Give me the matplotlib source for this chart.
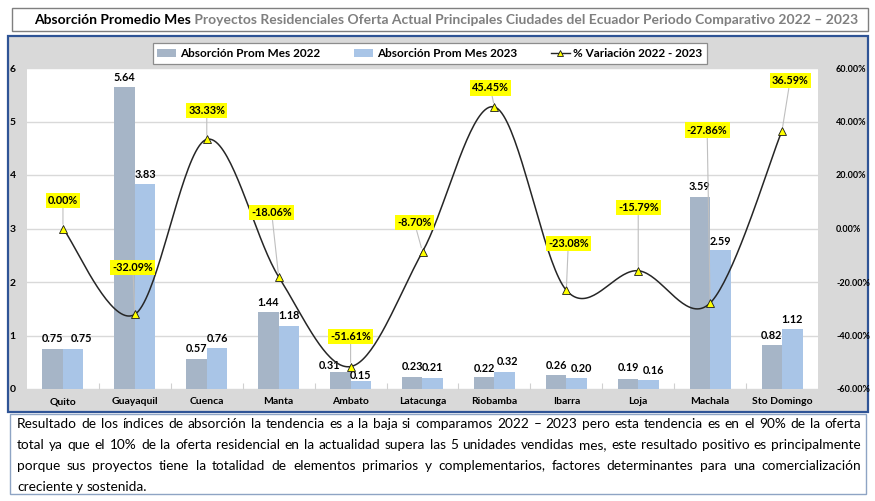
import numpy as np
import matplotlib
matplotlib.use("Agg")
import matplotlib.pyplot as plt
from matplotlib import font_manager
from matplotlib.patches import Rectangle, Patch
from matplotlib.lines import Line2D

W, H = 875, 501

# datos
ciudades = ["Quito", "Guayaquil", "Cuenca", "Manta", "Ambato", "Latacunga",
            "Riobamba", "Ibarra", "Loja", "Machala", "Sto Domingo"]
abs_2022 = [0.75, 5.64, 0.57, 1.44, 0.31, 0.23, 0.22, 0.26, 0.19, 3.59, 0.82]
abs_2023 = [0.75, 3.83, 0.76, 1.18, 0.15, 0.21, 0.32, 0.20, 0.16, 2.59, 1.12]
variacion = [0.00, -32.09, 33.33, -18.06, -51.61, -8.70, 45.45, -23.08, -15.79, -27.86, 36.59]
ticks_izq = [0, 1, 2, 3, 4, 5, 6]
ticks_der = [-60, -40, -20, 0, 20, 40, 60]

titulo_negro = "Absorción Promedio Mes"
titulo_gris = "Proyectos Residenciales Oferta Actual Principales Ciudades del Ecuador Periodo Comparativo 2022 – 2023"
leyenda = ["Absorción Prom Mes 2022", "Absorción Prom Mes 2023", "% Variación 2022 - 2023"]
parrafo = [
    "Resultado de los índices de absorción la tendencia es a la baja si comparamos 2022 – 2023 pero esta tendencia es en el 90% de la oferta",
    "total ya que el 10% de la oferta residencial en la actualidad supera las 5 unidades vendidas mes, este resultado positivo es principalmente",
    "porque sus proyectos tiene la totalidad de elementos primarios y complementarios, factores determinantes para una comercialización",
    "creciente y sostenida.",
]

# desplazamientos de etiquetas (pixeles)
off_pct = [(0, 28), (-2, 47), (0, 29), (-7, 64), (0, 30), (-8, 29),
           (-4, 19), (2, 47), (0, 63), (-3, 173), (8, 50)]
off_22 = [(0, 10), (0, 10), (0, 10), (0, 9), (-11, 7), (0, 10),
          (0, 9), (0, 10), (0, 11), (0, 10), (0, 10)]
off_23 = [(8, 10), (0, 10), (0, 10), (0, 10), (0, 5), (0, 10),
          (3, 10), (5, 10), (5, 10), (0, 9), (0, 10)]

C22 = "#A6B5C7"
C23 = "#A9C5E7"
GRIS_FONDO = "#D9D9D9"

names = {f.name for f in font_manager.fontManager.ttflist}
F_MAIN = "Lato" if "Lato" in names else "DejaVu Sans"
plt.rcParams["font.family"] = [F_MAIN, "DejaVu Sans"]


def fx(px):
    return px / W


def fy(py):
    return 1 - py / H


def excel_smooth(xs, ys, n=40):
    # curva suavizada tipo Excel (Bezier / Catmull-Rom)
    pts = np.column_stack([xs, ys]).astype(float)
    P = np.vstack([pts[0], pts, pts[-1]])
    out = []
    t = np.linspace(0, 1, n)[:, None]
    for i in range(1, len(P) - 2):
        p0, p1, p2, p3 = P[i - 1], P[i], P[i + 1], P[i + 2]
        c1 = p1 + (p2 - p0) / 6
        c2 = p2 - (p3 - p1) / 6
        seg = (1 - t) ** 3 * p1 + 3 * (1 - t) ** 2 * t * c1 + 3 * (1 - t) * t ** 2 * c2 + t ** 3 * p2
        out.append(seg if i == 1 else seg[1:])
    return np.vstack(out)


fig = plt.figure(figsize=(W / 100, H / 100), dpi=100)
renderer = fig.canvas.get_renderer()

# marcos
fondo = Rectangle((fx(8), fy(412)), fx(868) - fx(8), fy(36) - fy(412), transform=fig.transFigure,
                  fc=GRIS_FONDO, ec="#2F5496", lw=1.6, zorder=-2)
fig.add_artist(fondo)
caja_tit = Rectangle((fx(12), fy(31)), fx(868) - fx(12), fy(8) - fy(31), transform=fig.transFigure,
                     fc="white", ec="#7F7F7F", lw=1.0, zorder=-2)
fig.add_artist(caja_tit)
caja_txt = Rectangle((fx(10), fy(494)), fx(866) - fx(10), fy(414) - fy(494), transform=fig.transFigure,
                     fc="white", ec="#8EA4C4", lw=1.0, zorder=-2)
fig.add_artist(caja_txt)

# titulo en dos colores
t1 = fig.text(0, fy(24), titulo_negro, fontsize=10, fontweight="bold",
              color="black", va="baseline", ha="left")
t2 = fig.text(0, fy(24), " " + titulo_gris, fontsize=10, fontweight="bold",
              color="#7F7F7F", va="baseline", ha="left")
w1 = t1.get_window_extent(renderer).width
w2 = t2.get_window_extent(renderer).width
escala = 825 / (w1 + w2)
t1.set_fontsize(10 * escala)
t2.set_fontsize(10 * escala)
w1 = t1.get_window_extent(renderer).width
w2 = t2.get_window_extent(renderer).width
x0 = (446 - (w1 + w2) / 2)
t1.set_x(fx(x0))
t2.set_x(fx(x0 + w1))

# ejes
ax = fig.add_axes([fx(27), fy(389), fx(818) - fx(27), fy(68) - fy(389)])
ax.set_facecolor("white")
x = np.arange(len(ciudades))
bw = 0.285
ax.bar(x - bw / 2, abs_2022, bw, color=C22, zorder=2)
ax.bar(x + bw / 2, abs_2023, bw, color=C23, zorder=2)
ax.set_xlim(-0.5, len(ciudades) - 0.5)
ax.set_ylim(0, 6)
ax.set_yticks(ticks_izq)
ax.set_yticklabels([str(v) for v in ticks_izq], fontsize=7.5, fontweight="bold")
ax.yaxis.grid(True, color="#D9D9D9", lw=1.0, zorder=0)
ax.set_axisbelow(True)
ax.set_xticks(x)
ax.set_xticklabels(ciudades, fontsize=7.5, fontweight="bold")
ax.set_xticks(np.arange(0.5, len(ciudades) - 0.5, 1), minor=True)
ax.tick_params(axis="x", which="major", length=0, pad=6)
ax.tick_params(axis="x", which="minor", direction="in", length=4, color="#D0D0D0", width=0.8)
ax.tick_params(axis="y", length=0, pad=8)
for s in ax.spines.values():
    s.set_visible(False)

for i, v in enumerate(abs_2022):
    ax.annotate(f"{v:.2f}", xy=(x[i] - bw / 2, v), xytext=off_22[i], textcoords="offset pixels",
                ha="center", va="center", fontsize=7.8, fontweight="bold", zorder=4)
for i, v in enumerate(abs_2023):
    ax.annotate(f"{v:.2f}", xy=(x[i] + bw / 2, v), xytext=off_23[i], textcoords="offset pixels",
                ha="center", va="center", fontsize=7.8, fontweight="bold", zorder=4)

ax2 = ax.twinx()
ax2.set_ylim(-60, 60)
ax2.set_yticks(ticks_der)
ax2.set_yticklabels([f"{v:.2f}%" for v in ticks_der], fontsize=6.5, fontweight="bold")
ax2.tick_params(axis="y", length=0, pad=13)
for s in ax2.spines.values():
    s.set_visible(False)

curva = excel_smooth(x, variacion)
ax2.plot(curva[:, 0], curva[:, 1], color="#262626", lw=1.1, zorder=3)
ax2.plot(x, variacion, ls="none", marker="^", ms=6, mfc="#FFFF00", mec="#1A1A1A", mew=0.6, zorder=4)
for i, v in enumerate(variacion):
    ax2.annotate(f"{v:.2f}%", xy=(x[i], v), xytext=off_pct[i], textcoords="offset pixels",
                 ha="center", va="center", fontsize=7.8, fontweight="bold", zorder=5,
                 bbox=dict(boxstyle="square,pad=0.2", fc="#FFFF00", ec="none"),
                 arrowprops=dict(arrowstyle="-", color="#BFBFBF", lw=0.8, shrinkA=0, shrinkB=3))

# leyenda
handles = [Patch(fc=C22, ec="none"), Patch(fc=C23, ec="none"),
           Line2D([], [], color="#262626", lw=1.0, marker="^", ms=5, mfc="#FFFF00", mec="#1A1A1A", mew=0.6)]
lg = fig.legend(handles, leyenda, loc="center", bbox_to_anchor=(fx(430), fy(53.5)), ncol=3,
                frameon=True, fancybox=False, edgecolor="#8C8C8C", framealpha=1,
                prop=dict(size=8.5, weight="bold"), handlelength=1.6, handleheight=0.6,
                handletextpad=0.3, columnspacing=2.9, borderpad=0.4)
lg.get_frame().set_linewidth(0.9)

# parrafo justificado
PX_L, PX_R = 17, 861
lineas_y = [428, 449, 470, 491]
fs = 10
prueba = fig.text(0, 0, parrafo[1], fontsize=fs, family=F_MAIN)
nat = prueba.get_window_extent(renderer).width
prueba.remove()
fs = round(fs * (PX_R - PX_L) * 0.97 / nat, 1)
for k, linea in enumerate(parrafo):
    palabras = linea.split(" ")
    objs = [fig.text(0, fy(lineas_y[k]), p, fontsize=fs, family=F_MAIN, va="baseline", ha="left")
            for p in palabras]
    anchos = [o.get_window_extent(renderer).width for o in objs]
    if k < len(parrafo) - 1:
        hueco = (PX_R - PX_L - sum(anchos)) / (len(palabras) - 1)
    else:
        sp = fig.text(0, 0, "a a", fontsize=fs, family=F_MAIN)
        sa = fig.text(0, 0, "aa", fontsize=fs, family=F_MAIN)
        hueco = sp.get_window_extent(renderer).width - sa.get_window_extent(renderer).width
        sp.remove()
        sa.remove()
    pos = PX_L
    for o, a in zip(objs, anchos):
        o.set_x(fx(pos))
        pos += a + hueco

fig.savefig("out.png", dpi=100)
